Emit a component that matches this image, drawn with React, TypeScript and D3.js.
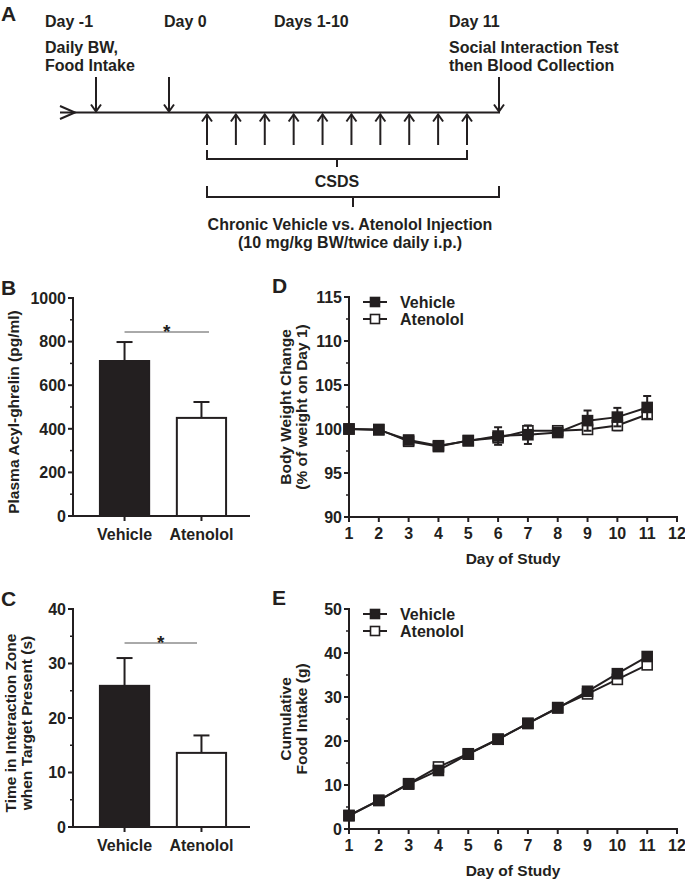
import React from "react";
import * as d3 from "d3";

const FONT = "'Liberation Sans', Arial, Helvetica, sans-serif";
const INK = "#231f20";

// panel B / C
const groups = ["Vehicle", "Atenolol"];
const ghrelinMean = [711, 450];
const ghrelinSem = [87, 73];
const interactionMean = [25.9, 13.6];
const interactionSem = [5.1, 3.2];

// panel D / E
const studyDays = [1, 2, 3, 4, 5, 6, 7, 8, 9, 10, 11];
const bwVehicle = [100, 99.9, 98.75, 98.1, 98.65, 99.2, 99.35, 99.6, 100.95, 101.35, 102.45];
const bwVehicleSem = [0.15, 0.3, 0.35, 0.3, 0.35, 1.0, 1.05, 0.5, 1.15, 1.05, 1.3];
const bwAtenolol = [100, 99.95, 98.6, 98.0, 98.7, 99.0, 99.8, 99.8, 99.95, 100.4, 101.65];
const bwAtenololSem = [0.1, 0.25, 0.3, 0.3, 0.3, 0.35, 0.55, 0.4, 0.5, 0.55, 0.5];
const fiVehicle = [3.0, 6.5, 10.2, 13.3, 17.0, 20.4, 24.0, 27.5, 31.3, 35.3, 39.2];
const fiAtenolol = [3.1, 6.5, 10.3, 14.1, 17.1, 20.4, 24.0, 27.6, 30.7, 34.0, 37.3];

// panel A
const markDays = [-1, 0, 11];
const csdsDays = [1, 2, 3, 4, 5, 6, 7, 8, 9, 10];

type Scale = d3.ScaleLinear<number, number>;

function YAxis({ scale, x, step, minorStep }: { scale: Scale; x: number; step: number; minorStep: number }) {
  const [d0, d1] = scale.domain();
  const majors = d3.range(d0, d1 + step / 2, step);
  const minors = d3.range(d0, d1 + minorStep / 2, minorStep).filter((v) => !majors.some((m) => Math.abs(m - v) < 1e-6));
  return (
    <g stroke={INK} strokeWidth={2}>
      <line x1={x} x2={x} y1={scale(d1) - 1} y2={scale(d0) + 1} />
      {majors.map((v) => (
        <g key={"M" + v}>
          <line x1={x - 5} x2={x} y1={scale(v)} y2={scale(v)} />
          <text x={x - 7} y={scale(v)} dy="0.36em" textAnchor="end" stroke="none" fill={INK} fontSize={16} fontWeight="bold">
            {v}
          </text>
        </g>
      ))}
      {minors.map((v) => (
        <line key={"m" + v} x1={x - 3} x2={x} y1={scale(v)} y2={scale(v)} strokeWidth={1.5} />
      ))}
    </g>
  );
}

function BarPanel({ letter, top, yMax, step, minorStep, mean, sem, sig, titles }: {
  letter: string; top: number; yMax: number; step: number; minorStep: number;
  mean: number[]; sem: number[]; sig: number; titles: string[];
}) {
  const axisX = 73;
  const y = d3.scaleLinear().domain([0, yMax]).range([top + 218, top]);
  const x = d3.scaleBand().domain(groups).range([73, 253]).paddingInner(0.36).paddingOuter(0.35);
  const bw = x.bandwidth();
  const cx = (g: string) => (x(g) ?? 0) + bw / 2;
  const midY = top + 114;
  return (
    <g>
      <text x={1} y={top - 3} fontSize={21} fontWeight="bold" fill={INK}>{letter}</text>
      {titles.map((t, i) => (
        <text key={t} transform={`translate(${(titles.length === 1 ? 19 : 16) + i * 16},${midY}) rotate(-90)`}
          textAnchor="middle" fontSize={15.5} fontWeight="bold" fill={INK}>{t}</text>
      ))}
      {groups.map((g, i) => (
        <g key={g} stroke={INK} strokeWidth={2}>
          <line x1={cx(g)} x2={cx(g)} y1={y(mean[i])} y2={y(mean[i] + sem[i])} />
          <line x1={cx(g) - 8} x2={cx(g) + 8} y1={y(mean[i] + sem[i])} y2={y(mean[i] + sem[i])} />
          <rect x={x(g)} y={y(mean[i])} width={bw} height={y(0) - y(mean[i])} fill={i === 0 ? INK : "#fff"} />
        </g>
      ))}
      <YAxis scale={y} x={axisX} step={step} minorStep={minorStep} />
      <g stroke={INK} strokeWidth={2}>
        <line x1={axisX - 1} x2={250} y1={y(0)} y2={y(0)} />
        {groups.map((g) => (
          <line key={g} x1={cx(g)} x2={cx(g)} y1={y(0)} y2={y(0) + 5} />
        ))}
      </g>
      {groups.map((g) => (
        <text key={g} x={cx(g)} y={y(0) + 24} textAnchor="middle" fontSize={16} fontWeight="bold" fill={INK}>{g}</text>
      ))}
      <line x1={cx(groups[0])} x2={sig} y1={y(0) - 184 - (top > 400 ? 0 : 0)} y2={y(0) - 184} stroke="#555" strokeWidth={1} />
      <text x={(cx(groups[0]) + sig) / 2} y={y(0) - 178} textAnchor="middle" fontSize={19} fontWeight="bold" fill={INK}>*</text>
    </g>
  );
}

function LinePanel({ letter, top, yMin, yMax, step, minorStep, vehicle, atenolol, vSem, aSem, titles }: {
  letter: string; top: number; yMin: number; yMax: number; step: number; minorStep: number;
  vehicle: number[]; atenolol: number[]; vSem?: number[]; aSem?: number[]; titles: string[];
}) {
  const x = d3.scaleLinear().domain([1, 12]).range([349, 677]);
  const y = d3.scaleLinear().domain([yMin, yMax]).range([top + 220, top]);
  const line = d3.line<number>().x((_, i) => x(studyDays[i])).y((v) => y(v));
  const midY = top + 110;
  const series = [
    { name: "Atenolol", vals: atenolol, sem: aSem, fill: "#fff" },
    { name: "Vehicle", vals: vehicle, sem: vSem, fill: INK },
  ];
  const legend = [
    { name: "Vehicle", fill: INK },
    { name: "Atenolol", fill: "#fff" },
  ];
  const ms = 10;
  return (
    <g>
      <text x={272} y={top - 4} fontSize={21} fontWeight="bold" fill={INK}>{letter}</text>
      {titles.map((t, i) => (
        <text key={t} transform={`translate(${291 + i * 16},${midY}) rotate(-90)`} textAnchor="middle"
          fontSize={15.5} fontWeight="bold" fill={INK}>{t}</text>
      ))}
      {series.map((s) => (
        <g key={s.name} stroke={INK} strokeWidth={2}>
          {s.sem && s.vals.map((v, i) => (
            <g key={i}>
              <line x1={x(studyDays[i])} x2={x(studyDays[i])} y1={y(v - s.sem![i])} y2={y(v + s.sem![i])} />
              <line x1={x(studyDays[i]) - 4} x2={x(studyDays[i]) + 4} y1={y(v + s.sem![i])} y2={y(v + s.sem![i])} />
              <line x1={x(studyDays[i]) - 4} x2={x(studyDays[i]) + 4} y1={y(v - s.sem![i])} y2={y(v - s.sem![i])} />
            </g>
          ))}
          <path d={line(s.vals) ?? undefined} fill="none" />
          {s.vals.map((v, i) => (
            <rect key={i} x={x(studyDays[i]) - ms / 2} y={y(v) - ms / 2} width={ms} height={ms} fill={s.fill} strokeWidth={1.6} />
          ))}
        </g>
      ))}
      <YAxis scale={y} x={349} step={step} minorStep={minorStep} />
      <g stroke={INK} strokeWidth={2}>
        <line x1={348} x2={678} y1={y(yMin)} y2={y(yMin)} />
        {d3.range(1, 13).map((d) => (
          <line key={d} x1={x(d)} x2={x(d)} y1={y(yMin)} y2={y(yMin) + 5} />
        ))}
      </g>
      {d3.range(1, 13).map((d) => (
        <text key={d} x={x(d)} y={y(yMin) + 22} textAnchor="middle" fontSize={16} fontWeight="bold" fill={INK}>{d}</text>
      ))}
      <text x={513} y={y(yMin) + 47} textAnchor="middle" fontSize={15.5} fontWeight="bold" fill={INK}>Day of Study</text>
      {legend.map((l, i) => (
        <g key={l.name}>
          <line x1={363} x2={387} y1={top + 5 + i * 17} y2={top + 5 + i * 17} stroke={INK} strokeWidth={2} />
          <rect x={370.5} y={top + 5 + i * 17 - 4.5} width={9} height={9} fill={l.fill} stroke={INK} strokeWidth={1.6} />
          <text x={400} y={top + 5 + i * 17} dy="0.36em" fontSize={16} fontWeight="bold" fill={INK}>{l.name}</text>
        </g>
      ))}
    </g>
  );
}

function Timeline() {
  const dx = d3.scaleLinear().domain([-1, 0, 1, 10, 11]).range([96, 169, 207, 467, 499]);
  const lineY = 112.5;
  const head = (x: number, y: number, dir: number) => `M${x - 5},${y - 7 * dir}L${x},${y}L${x + 5},${y - 7 * dir}`;
  const b1 = [dx(csdsDays[0]), dx(csdsDays[csdsDays.length - 1])];
  const b2 = [dx(csdsDays[0]), dx(markDays[2])];
  const t = { fontSize: 16, fontWeight: "bold" as const, fill: INK };
  return (
    <g>
      <text x={1} y={21} fontSize={21} fontWeight="bold" fill={INK}>A</text>
      <text x={45} y={27} {...t}>Day -1</text>
      <text x={45} y={53} {...t}>Daily BW,</text>
      <text x={45} y={71} {...t}>Food Intake</text>
      <text x={164} y={27} {...t}>Day 0</text>
      <text x={274} y={27} {...t}>Days 1-10</text>
      <text x={449} y={27} {...t}>Day 11</text>
      <text x={449} y={53} {...t}>Social Interaction Test</text>
      <text x={449} y={71} {...t}>then Blood Collection</text>
      <g stroke={INK} strokeWidth={2} fill="none">
        <line x1={60} x2={dx(11) + 1} y1={lineY} y2={lineY} />
        <path d={`M60,106L75,${lineY}L60,119`} />
        {markDays.map((d) => (
          <g key={d}>
            <line x1={dx(d)} x2={dx(d)} y1={77} y2={lineY} />
            <path d={head(dx(d), lineY - 1, 1)} />
          </g>
        ))}
        {csdsDays.map((d) => (
          <g key={d}>
            <line x1={dx(d)} x2={dx(d)} y1={lineY + 2} y2={145} />
            <path d={head(dx(d), lineY + 2, -1)} />
          </g>
        ))}
        <path d={`M${b1[0]},150V159H${b1[1]}V150M${(b1[0] + b1[1]) / 2},159V167`} />
        <path d={`M${b2[0]},186V197H${b2[1]}V186M${(b2[0] + b2[1]) / 2},197V207`} />
      </g>
      <text x={(b1[0] + b1[1]) / 2} y={187} textAnchor="middle" {...t}>CSDS</text>
      <text x={(b2[0] + b2[1]) / 2 - 3} y={230} textAnchor="middle" {...t}>Chronic Vehicle vs. Atenolol Injection</text>
      <text x={(b2[0] + b2[1]) / 2 - 3} y={248} textAnchor="middle" {...t}>(10 mg/kg BW/twice daily i.p.)</text>
    </g>
  );
}

export default function App() {
  return (
    <svg width={685} height={880} style={{ position: "absolute", left: 0, top: 0, background: "#fff" }} fontFamily={FONT}>
      <rect width={685} height={880} fill="#fff" />
      <Timeline />
      <BarPanel letter="B" top={298} yMax={1000} step={200} minorStep={100} mean={ghrelinMean} sem={ghrelinSem}
        sig={209} titles={["Plasma Acyl-ghrelin (pg/ml)"]} />
      <BarPanel letter="C" top={609} yMax={40} step={10} minorStep={5} mean={interactionMean} sem={interactionSem}
        sig={197} titles={["Time in Interaction Zone", "when Target Present (s)"]} />
      <LinePanel letter="D" top={297} yMin={90} yMax={115} step={5} minorStep={2.5} vehicle={bwVehicle} atenolol={bwAtenolol}
        vSem={bwVehicleSem} aSem={bwAtenololSem} titles={["Body Weight Change", "(% of weight on Day 1)"]} />
      <LinePanel letter="E" top={609} yMin={0} yMax={50} step={10} minorStep={5} vehicle={fiVehicle} atenolol={fiAtenolol}
        titles={["Cumulative", "Food Intake (g)"]} />
    </svg>
  );
}
